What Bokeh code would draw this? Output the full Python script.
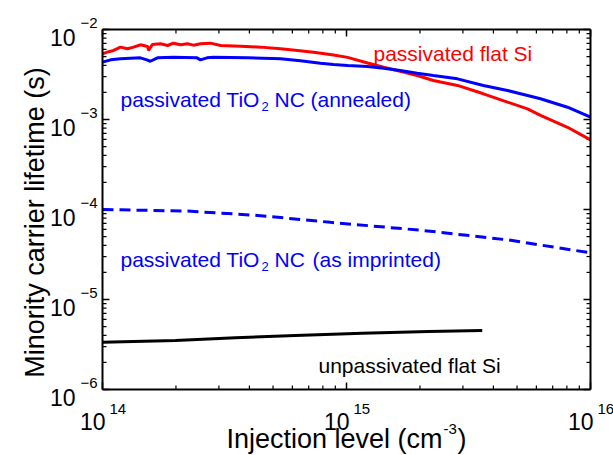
import math
import numpy as np
from bokeh.plotting import figure
from bokeh.models import Label, Range1d
from bokeh.embed import file_html
from bokeh.resources import INLINE

# ---------------- data ----------------
flat_si_x = [1.0e14, 1.045e14, 1.11e14, 1.185e14, 1.265e14, 1.34e14, 1.43e14, 1.53e14, 1.545e14,
             1.6e14, 1.73e14, 1.85e14, 1.95e14, 2.09e14, 2.23e14, 2.36e14, 2.52e14, 2.77e14,
             3.05e14, 3.68e14, 4.45e14, 5.37e14, 6.3e14, 7.33e14, 8.85e14, 1.01e15, 1.22e15,
             1.42e15, 1.66e15, 1.95e15, 2.27e15, 2.85e15, 3.64e15, 4.57e15, 5.52e15, 6.24e15,
             8.05e15, 1.0e16]
flat_si_y = [5.37e-3, 5.6e-3, 5.85e-3, 6.37e-3, 6.1e-3, 6.37e-3, 6.76e-3, 6.48e-3, 5.85e-3,
             6.81e-3, 6.93e-3, 6.64e-3, 7.05e-3, 6.76e-3, 6.93e-3, 6.7e-3, 6.93e-3, 7.05e-3,
             6.64e-3, 6.53e-3, 6.37e-3, 6.1e-3, 5.85e-3, 5.6e-3, 5.2e-3, 4.9e-3, 4.25e-3,
             3.81e-3, 3.44e-3, 3.08e-3, 2.71e-3, 2.39e-3, 1.93e-3, 1.56e-3, 1.31e-3, 1.11e-3,
             8.2e-4, 5.94e-4]

tio2_ann_x = [1.0e14, 1.08e14, 1.185e14, 1.3e14, 1.43e14, 1.52e14, 1.57e14, 1.68e14, 1.95e14,
              2.44e14, 2.52e14, 2.68e14, 2.85e14, 3.92e14, 5.37e14, 6.47e14, 7.82e14, 8.85e14,
              1.01e15, 1.22e15, 1.42e15, 1.66e15, 1.95e15, 2.27e15, 2.85e15, 3.64e15, 4.57e15,
              5.52e15, 6.24e15, 8.05e15, 1.0e16]
tio2_ann_y = [4.34e-3, 4.6e-3, 4.72e-3, 4.8e-3, 4.84e-3, 4.6e-3, 4.44e-3, 4.84e-3, 4.93e-3,
              4.84e-3, 4.6e-3, 4.84e-3, 4.93e-3, 4.84e-3, 4.72e-3, 4.5e-3, 4.22e-3, 4.08e-3,
              3.98e-3, 3.88e-3, 3.72e-3, 3.5e-3, 3.27e-3, 3.08e-3, 2.83e-3, 2.39e-3, 2.1e-3,
              1.85e-3, 1.7e-3, 1.37e-3, 1.06e-3]

tio2_imp_x = [1.0e14, 2.23e14, 4.32e14, 8.6e14, 2.07e15, 4.57e15, 1.0e16]
tio2_imp_y = [1.0e-4, 9.6e-5, 8.6e-5, 7.2e-5, 5.84e-5, 4.6e-5, 3.3e-5]

unpass_x = [1.0e14, 1.99e14, 3.51e14, 6.18e14, 1.16e15, 2.17e15, 3.6e15]
unpass_y = [3.36e-6, 3.5e-6, 3.75e-6, 3.98e-6, 4.23e-6, 4.41e-6, 4.53e-6]

x_ticks = [1e14, 1e15, 1e16]
x_tick_exp = ["14", "15", "16"]
y_ticks = [1e-6, 1e-5, 1e-4, 1e-3, 1e-2]
y_tick_exp = ["\u22126", "\u22125", "\u22124", "\u22123", "\u22122"]

FONT = "Liberation Sans"

# ---------------- layout (pixels) ----------------
W, H = 613, 455                  # canvas
L, T, R, B = 102, 29, 590, 389   # axes box inside the canvas
x_lo, x_hi = x_ticks[0], x_ticks[-1]
y_lo, y_hi = y_ticks[0], y_ticks[-1]
pdx = (R - L) / math.log10(x_hi / x_lo)   # pixels per decade
pdy = (B - T) / math.log10(y_hi / y_lo)

x_range = Range1d(x_lo * 10 ** (-L / pdx), x_hi * 10 ** ((W - R) / pdx))
y_range = Range1d(y_lo * 10 ** (-(H - B) / pdy), y_hi * 10 ** (T / pdy))

p = figure(width=W, height=H, x_axis_type="log", y_axis_type="log",
           x_range=x_range, y_range=y_range, x_axis_location=None, y_axis_location=None,
           output_backend="svg", toolbar_location=None, min_border=0)
p.grid.visible = False
p.outline_line_color = None
p.background_fill_color = "white"
p.border_fill_color = "white"

# ---------------- axes box and inward ticks ----------------
fx = lambda px: 10 ** (px / pdx)
fy = lambda px: 10 ** (px / pdy)
MAJ, MIN = 7, 4
x_minor = [m * t for t in x_ticks[:-1] for m in range(2, 10)]
y_minor = [m * t for t in y_ticks[:-1] for m in range(2, 10)]

# ticks on bottom / top
for ticks, ln, w in ((x_ticks, MAJ, 1.5), (x_minor, MIN, 1.2)):
    p.segment(x0=ticks, x1=ticks, y0=[y_lo] * len(ticks), y1=[y_lo * fy(ln)] * len(ticks),
              line_color="black", line_width=w)
    p.segment(x0=ticks, x1=ticks, y0=[y_hi] * len(ticks), y1=[y_hi / fy(ln)] * len(ticks),
              line_color="black", line_width=w)
# ticks on left / right
for ticks, ln, w in ((y_ticks, MAJ, 1.5), (y_minor, MIN, 1.2)):
    p.segment(y0=ticks, y1=ticks, x0=[x_lo] * len(ticks), x1=[x_lo * fx(ln)] * len(ticks),
              line_color="black", line_width=w)
    p.segment(y0=ticks, y1=ticks, x0=[x_hi] * len(ticks), x1=[x_hi / fx(ln)] * len(ticks),
              line_color="black", line_width=w)

# ---------------- data lines ----------------
p.line(flat_si_x, flat_si_y, line_color="#ff0000", line_width=3)
p.line(tio2_ann_x, tio2_ann_y, line_color="#0000ff", line_width=3)
p.line(tio2_imp_x, tio2_imp_y, line_color="#0000ff", line_width=3, line_dash="11 6")
p.line(unpass_x, unpass_y, line_color="black", line_width=3)

# box on top of everything
p.segment(x0=[x_lo, x_lo, x_lo, x_hi], x1=[x_hi, x_hi, x_lo, x_hi],
          y0=[y_lo, y_hi, y_lo, y_lo], y1=[y_lo, y_hi, y_hi, y_hi],
          line_color="black", line_width=2)


def add_text(x, y, dx, dy, text, size, color="black", align="left", angle=0.0):
    """dx to the right, dy downwards, in pixels from a data point."""
    p.add_layout(Label(x=x, y=y, x_offset=dx, y_offset=-dy, text=text, text_font=FONT,
                       text_font_size=size, text_color=color, text_align=align,
                       text_baseline="alphabetic", angle=angle))


# tick labels
for t, e in zip(y_ticks, y_tick_exp):
    add_text(x_lo, t, -27, 8, "10", "23px", align="right")
    add_text(x_lo, t, -22, -7, e, "15px")
for t, e in zip(x_ticks, x_tick_exp):
    add_text(t, y_lo, 3, 32, "10", "23px", align="right")
    add_text(t, y_lo, 7, 19, e, "15px")

# axis titles
add_text(x_lo, 1e-4, -68, 13, "Minority carrier lifetime (s)", "27px", align="center",
         angle=np.pi / 2)
add_text(1e15, y_lo, -120, 49, "Injection level (cm", "27px")
add_text(1e15, y_lo, 97, 39, "-3", "15px")
add_text(1e15, y_lo, 111, 49, ")", "27px")

# curve labels (anchored at the top-left corner of the axes box)
add_text(x_lo, y_hi, 271, 24, "passivated flat Si", "21px", color="#ff0000")
add_text(x_lo, y_hi, 18, 70, "passivated TiO", "21px", color="#0000ff")
add_text(x_lo, y_hi, 159, 77, "2", "13px", color="#0000ff")
add_text(x_lo, y_hi, 172, 70, "NC", "21px", color="#0000ff")
add_text(x_lo, y_hi, 208, 70, "(annealed)", "21px", color="#0000ff")
add_text(x_lo, y_hi, 18, 230, "passivated TiO", "21px", color="#0000ff")
add_text(x_lo, y_hi, 159, 237, "2", "13px", color="#0000ff")
add_text(x_lo, y_hi, 172, 230, "NC", "21px", color="#0000ff")
add_text(x_lo, y_hi, 210, 230, "(as imprinted)", "21px", color="#0000ff")
add_text(x_lo, y_hi, 216, 336, "unpassivated flat Si", "21px", color="black")

open("out.html", "w").write(file_html(p, INLINE))
